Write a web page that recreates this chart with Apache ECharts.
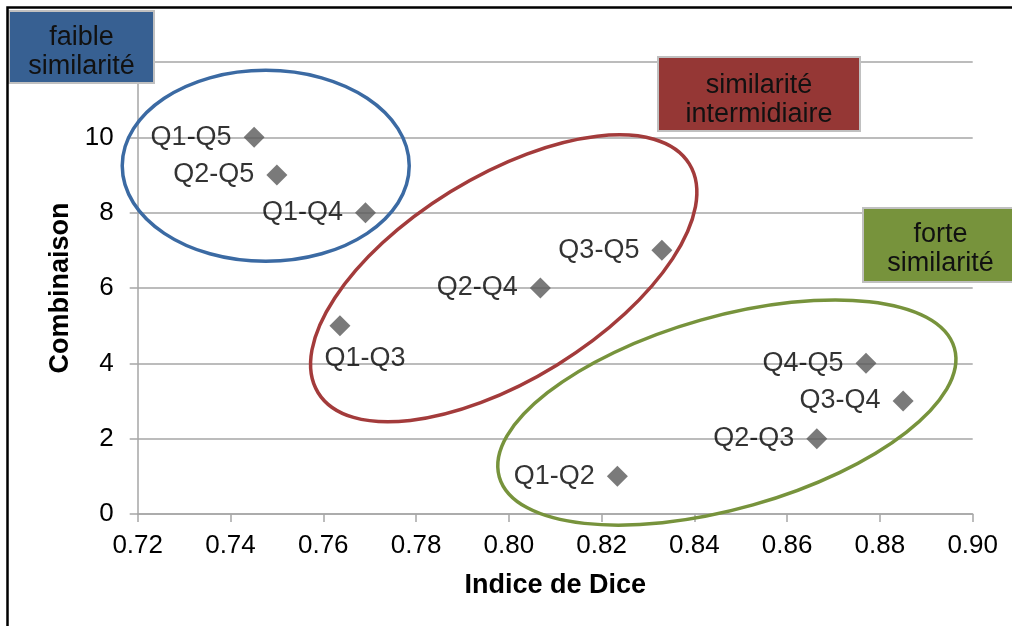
<!DOCTYPE html>
<html><head><meta charset="utf-8">
<script src="https://cdn.jsdelivr.net/npm/echarts@6/dist/echarts.min.js"></script>
<style>html,body{margin:0;padding:0;background:#fff}#c{width:1012px;height:626px}</style>
</head><body><div id="c"></div>
<script>
// ---- data ----
const pairNames   = ['Q1-Q2','Q2-Q3','Q3-Q4','Q4-Q5','Q1-Q3','Q2-Q4','Q3-Q5','Q1-Q4','Q2-Q5','Q1-Q5'];
const diceIndex   = [0.8234, 0.8664, 0.8850, 0.8770, 0.7636, 0.8068, 0.8330, 0.7691, 0.7500, 0.7451];
const combinaison = [1, 2, 3, 4, 5, 6, 7, 8, 9, 10];
const xAxisName = 'Indice de Dice';
const yAxisName = 'Combinaison';
const groupLabels = ['faible\nsimilarité', 'similarité\nintermidiaire', 'forte\nsimilarité'];
// group ellipse centres (data coords)
const groupCentreX = [0.7476, 0.7989, 0.8470];
const groupCentreY = [9.244, 6.257, 2.694];

const FONT = 'Liberation Sans, Arial, sans-serif';
const chart = echarts.init(document.getElementById('c'), null, {renderer: 'canvas'});

const points = pairNames.map((n, i) => {
  const d = {name: n, value: [diceIndex[i], combinaison[i]]};
  if (n === 'Q1-Q3') d.label = {position: 'bottom', distance: 9, offset: [25, 0]};
  return d;
});

chart.setOption({
  backgroundColor: '#ffffff',
  animation: false,
  grid: {left: 137.7, right: 39.3, top: 62, bottom: 112, containLabel: false},
  xAxis: {
    type: 'value', min: 0.72, max: 0.90, interval: 0.02,
    name: xAxisName, nameLocation: 'middle', nameGap: 58,
    nameTextStyle: {fontFamily: FONT, fontSize: 27, fontWeight: 'bold', color: '#000'},
    axisLine: {show: true, lineStyle: {color: '#a6a6a6', width: 1.5}},
    axisTick: {show: true, inside: false, length: 8, lineStyle: {color: '#a6a6a6', width: 1.5}},
    axisLabel: {fontFamily: FONT, fontSize: 26, color: '#000', margin: 19,
      formatter: v => v.toFixed(2)},
    splitLine: {show: false}
  },
  yAxis: {
    type: 'value', min: 0, max: 12, interval: 2,
    name: yAxisName, nameLocation: 'middle', nameGap: 63, nameRotate: 90,
    nameTextStyle: {fontFamily: FONT, fontSize: 27, fontWeight: 'bold', color: '#000'},
    axisLine: {show: true, lineStyle: {color: '#a6a6a6', width: 1.5}},
    axisTick: {show: true, inside: false, length: 8, lineStyle: {color: '#a6a6a6', width: 1.5}},
    axisLabel: {fontFamily: FONT, fontSize: 26, color: '#000', margin: 24},
    splitLine: {show: true, lineStyle: {color: '#a6a6a6', width: 1.5}}
  },
  series: [{
    type: 'scatter',
    symbol: 'diamond',
    symbolSize: [21, 21],
    itemStyle: {color: '#595959'},
    label: {show: true, position: 'left', distance: 12, formatter: p => p.name,
      fontFamily: FONT, fontSize: 27, color: '#000'},
    data: points,
    z: 3
  }]
});

// ---- annotations ----
const ellipseStyles = [
  {rx: 143.5, ry: 95.5, rot: 0, color: '#3b6aa3'},
  {rx: 218, ry: 101.7, rot: 31.65, color: '#a33b3b'},
  {rx: 236.5, ry: 96, rot: 15.8, color: '#77933c'}
];
const boxes = [
  {x: 9, y: 11, w: 145, h: 72, fill: '#376092', dy: 5},
  {x: 658, y: 57, w: 202, h: 74, fill: '#953735', dy: 6},
  {x: 863, y: 208, w: 155, h: 74, fill: '#77933c', dy: 4}
];
const elements = [];
ellipseStyles.forEach((e, i) => {
  const p = chart.convertToPixel({gridIndex: 0}, [groupCentreX[i], groupCentreY[i]]);
  elements.push({
    type: 'ellipse', x: p[0], y: p[1], rotation: e.rot * Math.PI / 180,
    shape: {cx: 0, cy: 0, rx: e.rx, ry: e.ry},
    style: {fill: null, stroke: e.color, lineWidth: 3.5},
    z: 50, silent: true
  });
});
boxes.forEach((b, i) => {
  elements.push({
    type: 'rect', shape: {x: b.x, y: b.y, width: b.w, height: b.h},
    style: {fill: b.fill, stroke: '#c0c0c0', lineWidth: 2}, z: 60
  });
  elements.push({
    type: 'text', x: b.x + b.w / 2, y: b.y + b.h / 2 + b.dy,
    style: {text: groupLabels[i], fill: '#111', font: '27px ' + FONT,
      align: 'center', verticalAlign: 'middle', lineHeight: 29},
    z: 61
  });
});
elements.push({
  type: 'rect', shape: {x: 7.5, y: 7.5, width: 1200, height: 1000},
  style: {fill: null, stroke: '#000', lineWidth: 2.5}, z: 70
});
chart.setOption({graphic: {elements}});
</script>
</body></html>
